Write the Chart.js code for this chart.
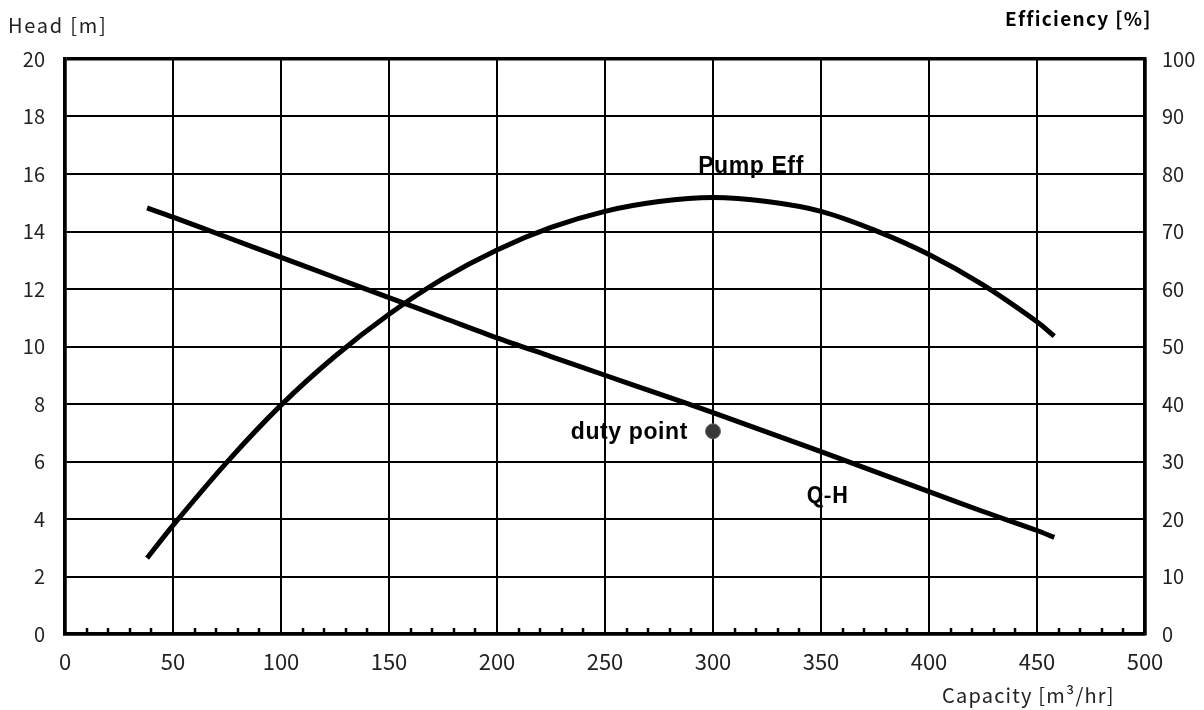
<!DOCTYPE html>
<html>
<head>
<meta charset="utf-8">
<script src="https://cdn.jsdelivr.net/npm/chart.js@4"></script>
<style>
html,body{margin:0;padding:0;background:#fff;}
#wrap{width:1204px;height:710px;position:relative;}
</style>
</head>
<body>
<div id="wrap"><canvas id="c" width="1204" height="710"></canvas></div>
<script>
// ---- data ----
const capacityQH = [38, 50, 75, 100, 125, 150, 175, 200, 225, 250, 275, 300, 325, 350, 375, 400, 425, 450, 458];
const headQH = [14.82, 14.5, 13.8, 13.1, 12.4, 11.7, 11.0, 10.3, 9.65, 9.0, 8.35, 7.7, 7.02, 6.34, 5.65, 4.95, 4.26, 3.6, 3.36];
const capacityEff = [38, 50, 75, 100, 125, 150, 175, 200, 225, 250, 275, 300, 325, 350, 375, 400, 425, 450, 458];
const pumpEff = [13.2, 18.9, 29.9, 39.8, 48.3, 55.6, 61.8, 66.8, 70.7, 73.5, 75.2, 75.9, 75.2, 73.5, 70.2, 66.0, 60.7, 54.3, 51.8];
const dutyPoint = [300, 7.05];
const xTicks = [0, 50, 100, 150, 200, 250, 300, 350, 400, 450, 500];
const headTicks = [0, 2, 4, 6, 8, 10, 12, 14, 16, 18, 20];
const effTicks = [0, 10, 20, 30, 40, 50, 60, 70, 80, 90, 100];
const curveLabels = ["Pump Eff", "duty point", "Q-H"];
const axisTitles = ["Head [m]", "Efficiency [%]", "Capacity [m³/hr]"];

const qhData = capacityQH.map((c, i) => ({x: c, y: headQH[i]}));
const effData = capacityEff.map((c, i) => ({x: c, y: pumpEff[i]}));

const FAM = "'Noto Sans CJK KR', 'DejaVu Sans', sans-serif";

const overlay = {
  id: 'overlay',
  afterDraw(chart) {
    const ctx = chart.ctx;
    const xs = chart.scales.x, ys = chart.scales.y;
    const area = chart.chartArea;
    ctx.save();
    // minor ticks on x axis (inside)
    ctx.strokeStyle = '#000';
    ctx.lineWidth = 2.5;
    for (let v = 10; v < 500; v += 10) {
      if (v % 50 === 0) continue;
      const px = Math.round(xs.getPixelForValue(v));
      ctx.beginPath();
      ctx.moveTo(px, area.bottom);
      ctx.lineTo(px, area.bottom - 6);
      ctx.stroke();
    }
    // curve labels
    ctx.fillStyle = '#000';
    ctx.textBaseline = 'alphabetic';
    ctx.font = "bold 23px 'Liberation Sans', Arial, sans-serif";
    ctx.letterSpacing = '0.6px';
    ctx.textAlign = 'center';
    ctx.fillText(curveLabels[0], xs.getPixelForValue(317.6), ys.getPixelForValue(16.03));
    ctx.textAlign = 'right';
    ctx.fillText(curveLabels[1], xs.getPixelForValue(288.4), ys.getPixelForValue(6.78));
    ctx.letterSpacing = '0px';
    ctx.textAlign = 'center';
    ctx.font = "bold 22px " + FAM;
    ctx.fillText(curveLabels[2], xs.getPixelForValue(353), ys.getPixelForValue(4.56));
    // axis titles
    ctx.textAlign = 'left';
    ctx.font = "20px " + FAM;
    ctx.letterSpacing = '1.75px';
    ctx.fillStyle = '#222';
    ctx.fillText(axisTitles[0], 8, 33);
    ctx.font = "bold 19px " + FAM;
    ctx.letterSpacing = '1.3px';
    ctx.fillStyle = '#000';
    ctx.fillText(axisTitles[1], 1005, 26);
    ctx.font = "20px " + FAM;
    ctx.letterSpacing = '1.2px';
    ctx.fillStyle = '#222';
    ctx.fillText(axisTitles[2], 942, 703);
    ctx.restore();
  }
};

new Chart(document.getElementById('c'), {
  type: 'line',
  data: {
    datasets: [
      {label: 'Q-H', data: qhData, yAxisID: 'y', borderColor: '#000', borderWidth: 5, pointRadius: 0, tension: 0.3, fill: false},
      {label: 'Pump Eff', data: effData, yAxisID: 'y2', borderColor: '#000', borderWidth: 5, pointRadius: 0, tension: 0.3, fill: false},
      {type: 'scatter', label: 'duty point', data: [{x: dutyPoint[0], y: dutyPoint[1]}], yAxisID: 'y', pointRadius: 7.5, pointBackgroundColor: '#383838', pointBorderColor: '#666', pointBorderWidth: 1}
    ]
  },
  options: {
    responsive: false,
    animation: false,
    devicePixelRatio: 1,
    layout: {padding: {top: 59, bottom: 0, left: 0, right: 0}},
    plugins: {legend: {display: false}, tooltip: {enabled: false}},
    scales: {
      x: {
        type: 'linear', min: 0, max: 500,
        afterBuildTicks: s => { s.ticks = xTicks.map(v => ({value: v})); },
        afterFit: s => { s.height = 76; },
        grid: {color: '#000', lineWidth: c => (c.tick && (c.tick.value === 0 || c.tick.value === 500)) ? 3.5 : 2, drawTicks: false},
        border: {display: true, color: '#000', width: 3.5},
        ticks: {color: '#222', font: {family: FAM, size: 22}, padding: 14, maxRotation: 0}
      },
      y: {
        type: 'linear', position: 'left', min: 0, max: 20,
        afterBuildTicks: s => { s.ticks = headTicks.map(v => ({value: v})); },
        afterFit: s => { s.width = 65; },
        grid: {color: '#000', lineWidth: c => (c.tick && (c.tick.value === 0 || c.tick.value === 20)) ? 3.5 : 2, drawTicks: false},
        border: {display: true, color: '#000', width: 3.5},
        ticks: {color: '#222', font: {family: FAM, size: 20}, padding: 20}
      },
      y2: {
        type: 'linear', position: 'right', min: 0, max: 100,
        afterBuildTicks: s => { s.ticks = effTicks.map(v => ({value: v})); },
        afterFit: s => { s.width = 59; },
        grid: {display: false, drawTicks: false},
        border: {display: true, color: '#000', width: 3.5},
        ticks: {color: '#222', font: {family: FAM, size: 20}, padding: 17}
      }
    }
  },
  plugins: [overlay]
});
</script>
</body>
</html>
